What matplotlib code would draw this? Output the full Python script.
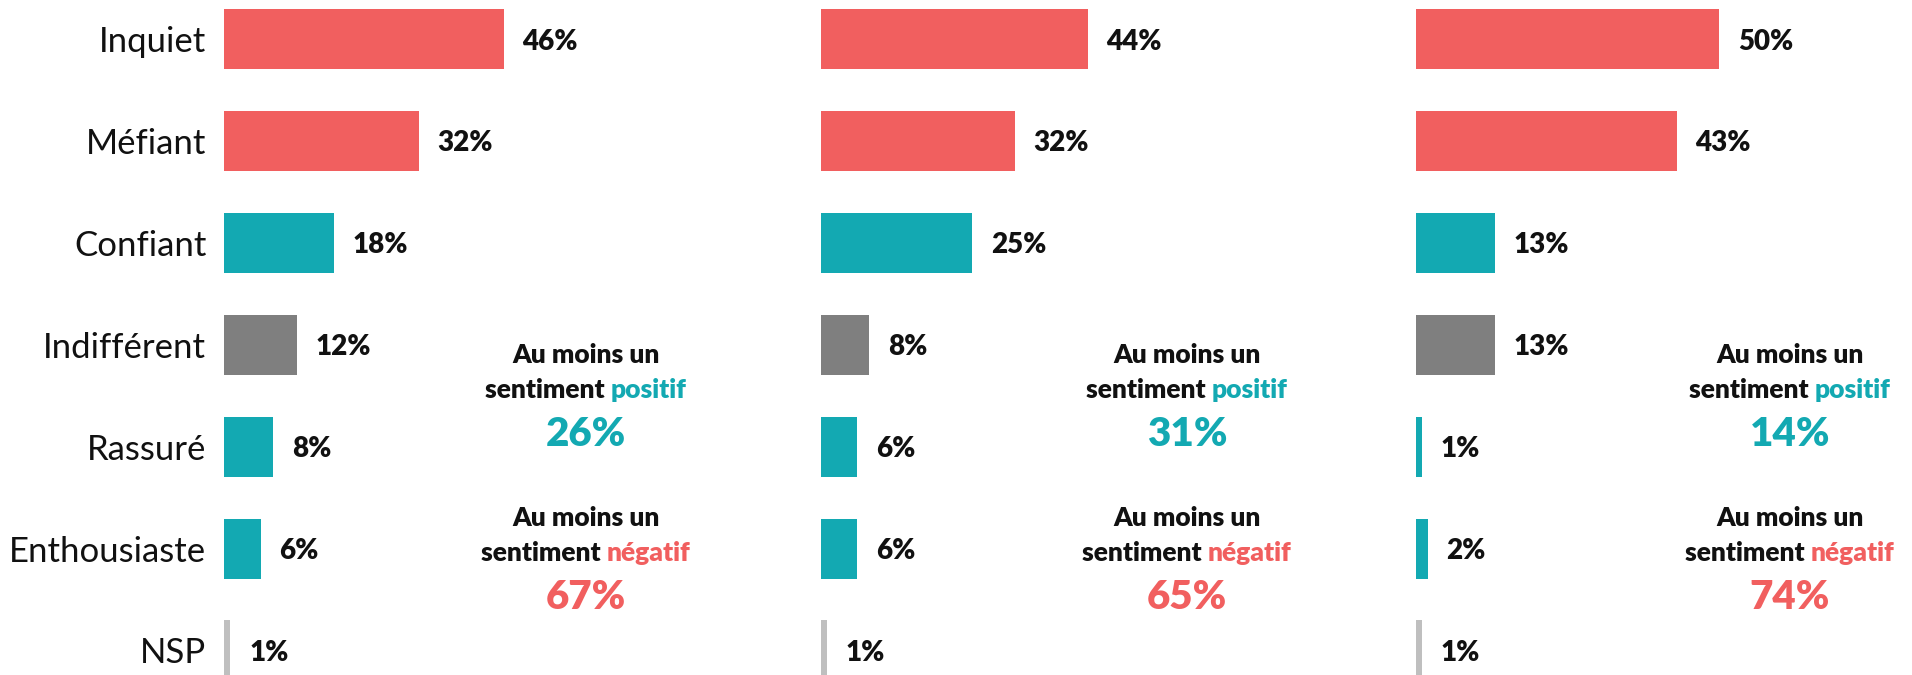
import matplotlib
matplotlib.use("Agg")
import matplotlib.pyplot as plt

# Sentiment categories and the share of respondents for each of three groups
categories = ["Inquiet", "Méfiant", "Confiant", "Indifférent", "Rassuré", "Enthousiaste", "NSP"]
group_1 = [46, 32, 18, 12, 8, 6, 1]
group_2 = [44, 32, 25, 8, 6, 6, 1]
group_3 = [50, 43, 13, 13, 1, 2, 1]
positive_totals = [26, 31, 14]
negative_totals = [67, 65, 74]

RED = "#F15F5F"
TEAL = "#13A9B2"
GRAY = "#7F7F7F"
LIGHT = "#BFBFBF"
bar_colors = [RED, RED, TEAL, GRAY, TEAL, TEAL, LIGHT]

FONT = "Lato"
plt.rcParams["font.family"] = [FONT, "DejaVu Sans"]

W, H = 1912, 675
fig = plt.figure(figsize=(W / 100, H / 100), dpi=100)
fig.patch.set_facecolor("white")

px_per_pct = 6.07
row_step = 101.9
first_row = 39.0
axes_span = 60  # percent shown across each panel

panel_lefts = [224.4, 820.7, 1415.7]
summary_centers = [586, 1187, 1790]
groups = [group_1, group_2, group_3]

rows = list(range(len(categories)))

for k, (left, values) in enumerate(zip(panel_lefts, groups)):
    ax = fig.add_axes([left / W, 0, axes_span * px_per_pct / W, 1])
    ax.set_facecolor("none")
    ax.barh(rows, values, height=60 / row_step, color=bar_colors, linewidth=0)
    ax.set_xlim(0, axes_span)
    ax.set_ylim((H - first_row) / row_step, -first_row / row_step)
    for spine in ax.spines.values():
        spine.set_visible(False)
    ax.set_xticks([])
    if k == 0:
        ax.set_yticks(rows)
        ax.set_yticklabels(categories, fontsize=25, color="#111111")
        ax.tick_params(axis="y", length=0, pad=13)
    else:
        ax.set_yticks([])
    for r, v in zip(rows, values):
        ax.annotate(f"{v}%", xy=(v, r), xytext=(13.5, 0), textcoords="offset points",
                    ha="left", va="center_baseline", fontsize=20, fontweight="heavy",
                    color="#111111", annotation_clip=False)

renderer = fig.canvas.get_renderer()


def fy(y):
    return 1 - y / H


def two_tone(cx, y_base, head, tail, tail_color, size):
    probe = fig.text(0, 0, head + tail, fontsize=size, fontweight="heavy")
    width = probe.get_window_extent(renderer).width
    probe.remove()
    x0 = cx - width / 2
    fig.text(x0 / W, fy(y_base), head, fontsize=size, fontweight="heavy",
             color="#111111", ha="left", va="baseline")
    fig.text((x0 + width) / W, fy(y_base), tail, fontsize=size, fontweight="heavy",
             color=tail_color, ha="right", va="baseline")


block_gap = 163
for cx, pos, neg in zip(summary_centers, positive_totals, negative_totals):
    for dy, word, color, total in [(0, "positif", TEAL, pos), (block_gap, "négatif", RED, neg)]:
        fig.text(cx / W, fy(363 + dy), "Au moins un", fontsize=19, fontweight="heavy",
                 color="#111111", ha="center", va="baseline")
        two_tone(cx, 398 + dy, "sentiment ", word, color, 19)
        fig.text(cx / W, fy(446 + dy), f"{total}%", fontsize=29, fontweight="heavy",
                 color=color, ha="center", va="baseline")

fig.savefig("out.png", dpi=100, facecolor="white")
